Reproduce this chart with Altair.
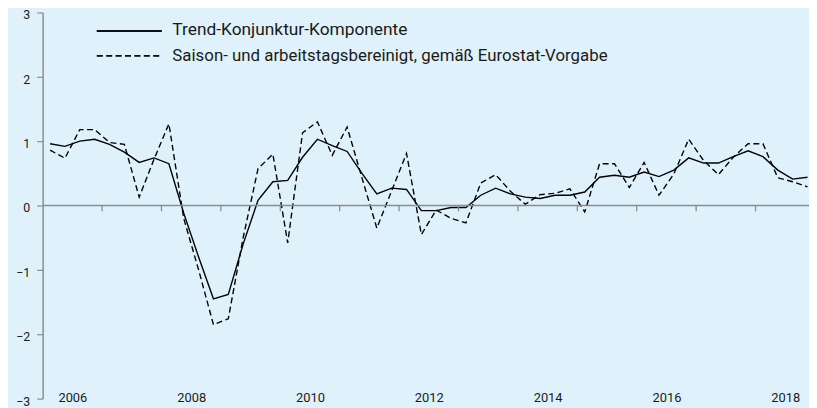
import altair as alt
import pandas as pd

# ---- data ----
years = list(range(2006, 2019))
trend = [
    0.96, 0.92, 1.00, 1.03,    # 2006
    0.95, 0.83, 0.67, 0.74,    # 2007
    0.65, -0.12, -0.80, -1.45, # 2008
    -1.38, -0.60, 0.08, 0.37,  # 2009
    0.39, 0.75, 1.03, 0.93,    # 2010
    0.84, 0.50, 0.18, 0.27,    # 2011
    0.25, -0.08, -0.08, -0.03, # 2012
    -0.03, 0.16, 0.27, 0.18,   # 2013
    0.13, 0.11, 0.16, 0.16,    # 2014
    0.21, 0.44, 0.47, 0.44,    # 2015
    0.52, 0.45, 0.55, 0.74,    # 2016
    0.66, 0.66, 0.76, 0.85,    # 2017
    0.76, 0.55, 0.41, 0.44,    # 2018
]
saison = [
    0.86, 0.735, 1.18, 1.18,   # 2006
    0.98, 0.95, 0.13, 0.72,    # 2007
    1.27, -0.20, -1.00, -1.85, # 2008
    -1.76, -0.50, 0.57, 0.80,  # 2009
    -0.58, 1.13, 1.30, 0.78,   # 2010
    1.22, 0.43, -0.35, 0.23,   # 2011
    0.81, -0.45, -0.07, -0.20, # 2012
    -0.27, 0.35, 0.48, 0.22,   # 2013
    0.02, 0.17, 0.19, 0.26,    # 2014
    -0.10, 0.65, 0.65, 0.28,   # 2015
    0.67, 0.16, 0.49, 1.03,    # 2016
    0.70, 0.48, 0.75, 0.96,    # 2017
    0.96, 0.43, 0.37, 0.29,    # 2018
]
label_years = [2006, 2008, 2010, 2012, 2014, 2016, 2018]
tick_years = list(range(2007, 2019))
y_ticks = [-3, -2, -1, 0, 1, 2, 3]
legend_labels = [
    "Trend-Konjunktur-Komponente",
    "Saison- und arbeitstagsbereinigt, gemäß Eurostat-Vorgabe",
]

# quarter mid-points as time values
t = [y + (q + 0.5) / 4 for y in years for q in range(4)]
df = pd.DataFrame({"t": t, "trend": trend, "saison": saison})
ticks_df = pd.DataFrame({"year": tick_years})

FONT = "Roboto"
GRAY = "#8c8c8c"
TXT = "#1a1a1a"

xscale = alt.Scale(domain=[2006, 2018.9], nice=False, zero=False)
yscale = alt.Scale(domain=[-3, 3], nice=False, zero=False)

x_axis = alt.Axis(
    values=[y + 0.5 for y in label_years],
    labelExpr="format(floor(datum.value), 'd')",
    domain=False, ticks=False, grid=False,
    labelPadding=-7, labelFontSize=13, labelFont=FONT, labelColor=TXT,
    title=None,
)
y_axis = alt.Axis(
    values=y_ticks, domain=True, domainColor=GRAY, domainWidth=1.5,
    ticks=True, tickColor=GRAY, tickSize=6, tickWidth=1.2,
    grid=False, labelPadding=7, labelFontSize=12.5, labelFont=FONT,
    labelColor=TXT, title=None, labelOffset=2.5,
)

trend_line = alt.Chart(df).mark_line(color="black", strokeWidth=1.4).encode(
    x=alt.X("t:Q", scale=xscale, axis=x_axis),
    y=alt.Y("trend:Q", scale=yscale, axis=y_axis),
)
saison_line = alt.Chart(df).mark_line(
    color="black", strokeWidth=1.4, strokeDash=[6, 3.5]
).encode(
    x=alt.X("t:Q", scale=xscale, axis=x_axis),
    y=alt.Y("saison:Q", scale=yscale, axis=y_axis),
)

zero = alt.Chart(pd.DataFrame({"v": [0]})).mark_rule(
    color=GRAY, strokeWidth=1.5
).encode(y=alt.Y("v:Q", scale=yscale, axis=y_axis))

yearticks = alt.Chart(ticks_df).transform_calculate(
    y0="0", y1="-0.09"
).mark_rule(color=GRAY, strokeWidth=1.3).encode(
    x=alt.X("year:Q", scale=xscale, axis=x_axis),
    y=alt.Y("y0:Q", scale=yscale, axis=y_axis),
    y2="y1:Q",
)

leg_df = pd.DataFrame({"label": legend_labels})
leg1_line = alt.Chart(leg_df).mark_rule(color="black", strokeWidth=1.4).encode(
    x=alt.value(54.7), x2=alt.value(120.3), y=alt.value(18.8)
)
leg2_line = alt.Chart(leg_df).mark_rule(
    color="black", strokeWidth=1.4, strokeDash=[6, 3.5]
).encode(x=alt.value(54.7), x2=alt.value(120.3), y=alt.value(43.8))
leg1_text = alt.Chart(leg_df).transform_filter(
    alt.datum.label == legend_labels[0]
).mark_text(align="left", baseline="alphabetic", font=FONT, fontSize=17.5, color=TXT).encode(
    x=alt.value(131), y=alt.value(22.8), text="label:N"
)
leg2_text = alt.Chart(leg_df).transform_filter(
    alt.datum.label == legend_labels[1]
).mark_text(align="left", baseline="alphabetic", font=FONT, fontSize=17, color=TXT).encode(
    x=alt.value(131), y=alt.value(49.5), text="label:N"
)

chart = alt.layer(
    trend_line, saison_line, zero, yearticks,
    leg1_line, leg2_line, leg1_text, leg2_text,
).properties(
    width=774, height=390,
    background="#dff2fc",
    padding={"left": 35, "top": 2.5, "right": 0, "bottom": 7.5},
    autosize=alt.AutoSizeParams(type="none"),
).configure_view(stroke=None)

chart.save("out.html", embed_options={"renderer": "svg", "actions": False})
